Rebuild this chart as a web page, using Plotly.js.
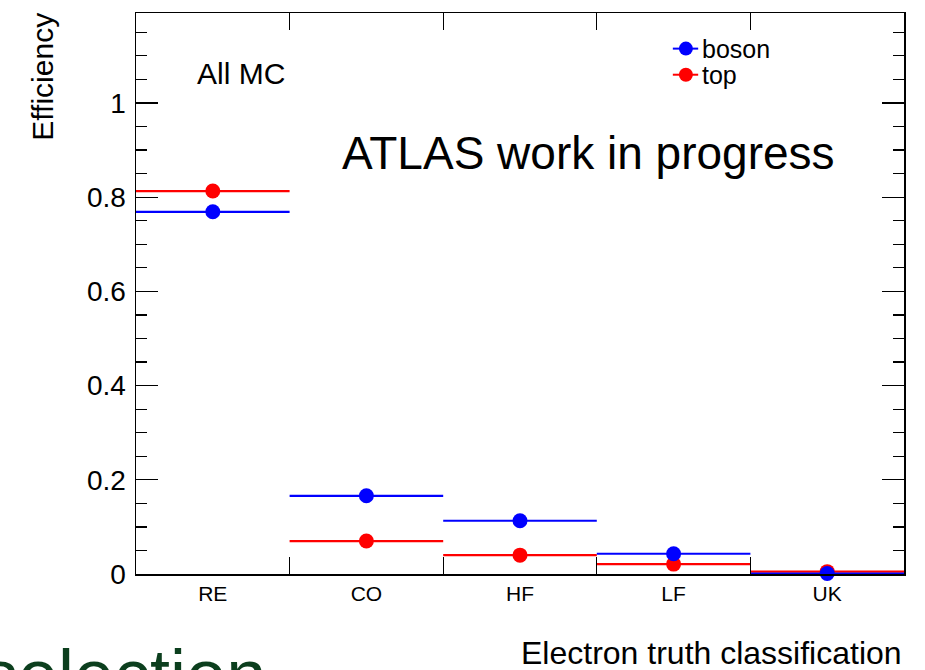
<!DOCTYPE html>
<html>
<head>
<meta charset="utf-8">
<script src="https://cdn.plot.ly/plotly-3.0.1.min.js"></script>
<style>
  html, body { margin: 0; padding: 0; background: #ffffff; }
  #plot { width: 925px; height: 670px; }
</style>
</head>
<body>
<div id="plot"></div>
<script>
// Electron truth classification bins and efficiencies
const categories = ["RE", "CO", "HF", "LF", "UK"];
const binCenters = [0.5, 1.5, 2.5, 3.5, 4.5];
const binEdges = [1, 2, 3, 4];
const halfWidth = [0.5, 0.5, 0.5, 0.5, 0.5];
const bosonEff = [0.769, 0.166, 0.113, 0.043, 0.001];
const topEff = [0.813, 0.070, 0.040, 0.021, 0.005];

const FONT = "Liberation Sans, Arial, Helvetica, sans-serif";

function series(name, values, color) {
  return {
    type: "scatter",
    mode: "markers",
    name: name,
    x: binCenters,
    y: values,
    marker: { color: color, size: 15, symbol: "circle" },
    error_x: { type: "data", array: halfWidth, visible: true, color: color, thickness: 2.2, width: 0 },
    showlegend: false,
    cliponaxis: false,
    hoverinfo: "x+y"
  };
}

const traces = [
  series("top", topEff, "#ff0000"),
  series("boson", bosonEff, "#0000ff")
];

// hand-drawn legend (line + marker + label) in the upper right corner
const legendItems = [
  { name: "boson", color: "#0000ff", y: 0.9365 },
  { name: "top", color: "#ff0000", y: 0.8900 }
];
const legX0 = 0.699, legX1 = 0.732, legXm = 0.716;
const shapes = [];
const annotations = [];
legendItems.forEach(function (it) {
  shapes.push({ type: "line", xref: "paper", yref: "paper", x0: legX0, x1: legX1, y0: it.y, y1: it.y,
    line: { color: it.color, width: 2 } });
  shapes.push({ type: "circle", xref: "paper", yref: "paper", xsizemode: "pixel", ysizemode: "pixel",
    xanchor: legXm, yanchor: it.y, x0: -7, x1: 7, y0: -7, y1: 7,
    fillcolor: it.color, line: { color: it.color, width: 0 } });
  annotations.push({ xref: "paper", yref: "paper", x: 0.7345, y: it.y, xanchor: "left", yanchor: "middle",
    text: it.name, showarrow: false, font: { family: FONT, size: 25, color: "#000" } });
});

annotations.push(
  { xref: "paper", yref: "paper", x: 0.137, y: 0.893, xanchor: "center", yanchor: "middle",
    text: "All MC", showarrow: false, font: { family: FONT, size: 30, color: "#000" } },
  { xref: "paper", yref: "paper", x: 0.589, y: 0.750, xanchor: "center", yanchor: "middle",
    text: "ATLAS work in progress", showarrow: false, font: { family: FONT, size: 46, color: "#000" } },
  { xref: "paper", yref: "paper", x: -0.122, y: 0.887, xanchor: "center", yanchor: "middle", textangle: -90,
    text: "Efficiency", showarrow: false, font: { family: FONT, size: 30, color: "#000" } },
  { xref: "paper", yref: "paper", x: 1.0, y: -0.141, xanchor: "right", yanchor: "middle",
    text: "Electron truth classification", showarrow: false, font: { family: FONT, size: 32, color: "#000" } },
  { xref: "paper", yref: "paper", x: -0.2025, y: -0.105, xanchor: "left", yanchor: "top",
    text: "selection", showarrow: false, font: { family: FONT, size: 72, color: "#0c3f1e" } }
);

const layout = {
  width: 925,
  height: 670,
  margin: { l: 136, r: 21, t: 13, b: 96, pad: 0 },
  paper_bgcolor: "#ffffff",
  plot_bgcolor: "#ffffff",
  showlegend: false,
  font: { family: FONT, color: "#000" },
  xaxis: {
    range: [0, 5],
    tickmode: "array",
    tickvals: binCenters,
    ticktext: categories,
    ticks: "",
    tickfont: { family: FONT, size: 21, color: "#000" },
    minor: { tickmode: "array", tickvals: binEdges, ticks: "inside", ticklen: 17, tickcolor: "#000", tickwidth: 1.2, showgrid: false },
    showline: true, linecolor: "#000", linewidth: 1.5, mirror: "allticks",
    showgrid: false, zeroline: false, fixedrange: true
  },
  yaxis: {
    range: [0, 1.191],
    tickmode: "linear", tick0: 0, dtick: 0.2,
    ticks: "inside", ticklen: 22, tickwidth: 1.2, tickcolor: "#000",
    minor: { dtick: 0.05, tick0: 0, ticks: "inside", ticklen: 11, tickwidth: 1.2, tickcolor: "#000", showgrid: false },
    tickfont: { family: FONT, size: 28, color: "#000" },
    ticklabelstandoff: 3,
    showline: true, linecolor: "#000", linewidth: 1.5, mirror: "allticks",
    showgrid: false, zeroline: false, fixedrange: true
  },
  shapes: shapes,
  annotations: annotations
};

Plotly.newPlot("plot", traces, layout, { displayModeBar: false, staticPlot: true });
</script>
</body>
</html>
